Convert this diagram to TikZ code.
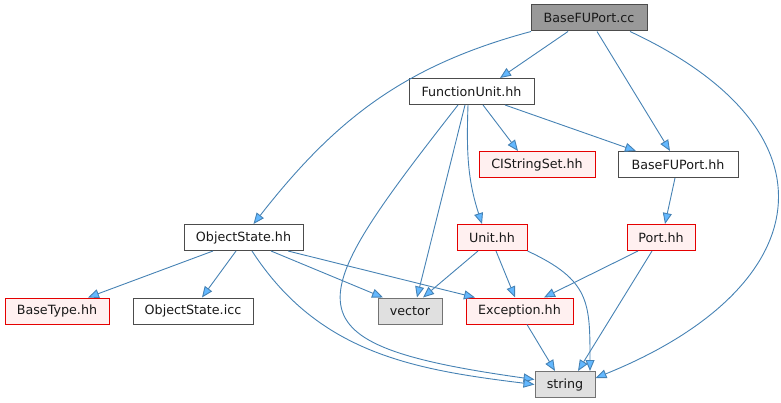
\documentclass[tikz,border=0pt]{standalone}
\usepackage{fontspec}
\setmainfont{DejaVu Sans}
\usetikzlibrary{arrows.meta}
\definecolor{edgeblue}{HTML}{4682B4}
\definecolor{tipblue}{HTML}{63B8FF}
\definecolor{redfill}{HTML}{FFF0F0}
\definecolor{sysfill}{HTML}{E0E0E0}
\begin{document}
\begin{tikzpicture}
  [x=1pt, y=1pt,
   file/.style={draw=black!70, fill=white, line width=1pt, inner sep=0pt, minimum height=26pt,
                font=\fontsize{12.7}{15}\selectfont, text=black!90},
   srcfile/.style={file, fill=black!40, draw=black!70},
   nodoc/.style={file, fill=redfill, draw=red!90!black},
   sysfile/.style={file, fill=sysfill, draw=black!55},
   dep/.style={draw=edgeblue, line width=0.9pt, -{Triangle[length=11pt, width=9pt, fill=tipblue]}}]

  \useasboundingbox (0,0) rectangle (781,-403);

  \node[srcfile, minimum width=116pt] (cc)     at (589,-18)    {BaseFUPort.cc};
  \node[file,    minimum width=125pt] (fu)     at (471.5,-91.5) {FunctionUnit.hh};
  \node[nodoc,   minimum width=116pt] (cis)    at (537,-164.5) {CIStringSet.hh};
  \node[file,    minimum width=120pt] (bfh)    at (678,-164.5) {BaseFUPort.hh};
  \node[file,    minimum width=119pt] (osh)    at (243.5,-237.5) {ObjectState.hh};
  \node[nodoc,   minimum width=70pt]  (unit)   at (492,-237.5) {Unit.hh};
  \node[nodoc,   minimum width=68pt]  (port)   at (661,-237.5) {Port.hh};
  \node[nodoc,   minimum width=104pt] (btype)  at (57,-311)    {BaseType.hh};
  \node[file,    minimum width=120pt] (osicc)  at (193,-311)   {ObjectState.icc};
  \node[sysfile, minimum width=64pt]  (vector) at (410,-311)   {vector};
  \node[nodoc,   minimum width=107pt] (exc)    at (519.5,-311) {Exception.hh};
  \node[sysfile, minimum width=60pt]  (string) at (565,-384.5) {string};

  \foreach \src/\sx/\dst/\dx in {cc/-21/fu/28.5, cc/8/bfh/-8, fu/11.5/cis/-19, fu/33.5/bfh/-42,
      fu/-6.5/vector/7, bfh/-3/port/4, osh/-30.5/btype/31, osh/-7.5/osicc/9,
      osh/27.5/vector/-27, osh/44.5/exc/-44.5, unit/-14/vector/13, unit/4/exc/-4.5,
      port/-23/exc/24.5, port/-9/string/13, exc/7.5/string/-10}
    \draw[dep] ([xshift=\sx pt]\src.south) -- ([xshift=\dx pt]\dst.north);

  \draw[dep] ([xshift=-58pt]cc.south) to[out=195, in=52] ([xshift=10pt]osh.north);
  \draw[dep] ([xshift=41pt]cc.south) to[out=-25, in=22, looseness=1.75] ([yshift=6.5pt]string.east);
  \draw[dep] ([xshift=-3.5pt]fu.south) to[out=-92, in=108] ([xshift=-10pt]unit.north);
  \draw[dep] ([xshift=-13.5pt]fu.south) to[out=-128, in=172, looseness=2.3] ([yshift=5pt]string.west);
  \draw[dep] ([xshift=8.5pt]osh.south) to[out=-57, in=173] ([yshift=0pt]string.west);
  \draw[dep] (unit.south east) to[out=-25, in=90, looseness=1.3] ([xshift=25pt]string.north);
\end{tikzpicture}
\end{document}
